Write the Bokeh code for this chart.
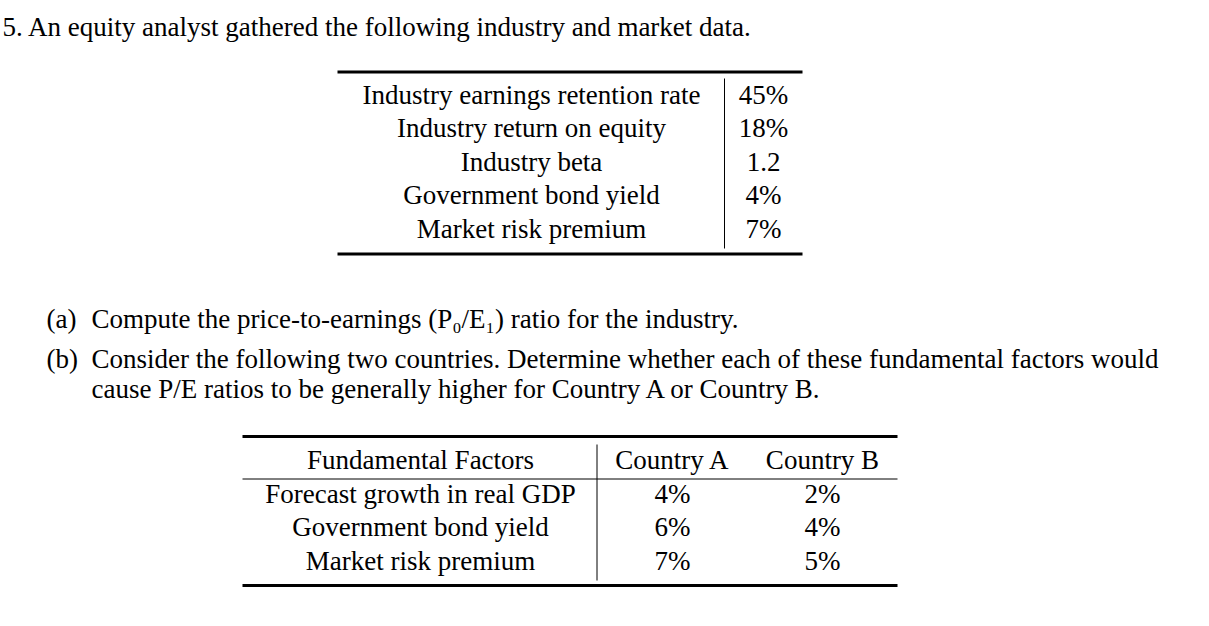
from bokeh.plotting import figure
from bokeh.models import Range1d, ColumnDataSource
from bokeh.core.properties import value
from bokeh.embed import file_html
from bokeh.resources import INLINE

# ---- data ----
intro = ["5.  An equity analyst gathered the following industry and market data."]
industry_labels = ["Industry earnings retention rate", "Industry return on equity",
                   "Industry beta", "Government bond yield", "Market risk premium"]
industry_values = ["45%", "18%", "1.2", "4%", "7%"]
question_lines = ["(a)", "Compute the price-to-earnings (P\u2080/E\u2081) ratio for the industry.",
                  "(b)", "Consider the following two countries. Determine whether each of these fundamental factors would",
                  "cause P/E ratios to be generally higher for Country A or Country B."]
headers = ["Fundamental Factors", "Country A", "Country B"]
factors = ["Forecast growth in real GDP", "Government bond yield", "Market risk premium"]
country_a = ["4%", "6%", "7%"]
country_b = ["2%", "4%", "5%"]

FONT = value("Liberation Serif")
FS = "27px"
TB = -9  # baseline correction for rendered text

p = figure(width=1193, height=610, output_backend="svg", toolbar_location=None,
           x_range=Range1d(0, 1193), y_range=Range1d(610, 0),
           x_axis_type=None, y_axis_type=None, min_border=0,
           outline_line_color=None, background_fill_color="white",
           border_fill_color="white")
p.grid.visible = False

def txt(xs, ys, texts, align="left"):
    src = ColumnDataSource(dict(x=xs, y=[y + TB for y in ys], t=texts))
    p.text(x="x", y="y", text="t", source=src, text_font=FONT, text_font_size=FS,
           text_align=align, text_baseline="alphabetic", text_color="black")

# intro line
txt([2], [35], intro)

# table 1
row_h = 33.5
t1_base = 103
t1_y = [t1_base + i * row_h for i in range(len(industry_labels))]
txt([531] * len(industry_labels), t1_y, industry_labels, "center")
txt([763] * len(industry_values), t1_y, industry_values, "center")
p.segment(x0=[337, 337], y0=[71.5, 253.5], x1=[802, 802], y1=[71.5, 253.5],
          line_width=3, line_color="black")
p.segment(x0=[724], y0=[78], x1=[724], y1=[248], line_width=1, line_color="black")

# questions
txt([46, 91, 46, 91, 91], [327, 327, 367, 367, 397], question_lines)

# table 2
txt([420, 672, 822], [468] * 3, headers, "center")
t2_y = [502 + i * row_h for i in range(len(factors))]
txt([420] * len(factors), t2_y, factors, "center")
txt([672] * len(country_a), t2_y, country_a, "center")
txt([822] * len(country_b), t2_y, country_b, "center")
p.segment(x0=[242, 242], y0=[436, 585], x1=[897, 897], y1=[436, 585],
          line_width=3, line_color="black")
p.segment(x0=[242], y0=[478.5], x1=[897], y1=[478.5], line_width=1, line_color="black")
p.segment(x0=[596.5], y0=[444], x1=[596.5], y1=[580], line_width=1, line_color="black")

open("out.html", "w").write(file_html(p, INLINE))
